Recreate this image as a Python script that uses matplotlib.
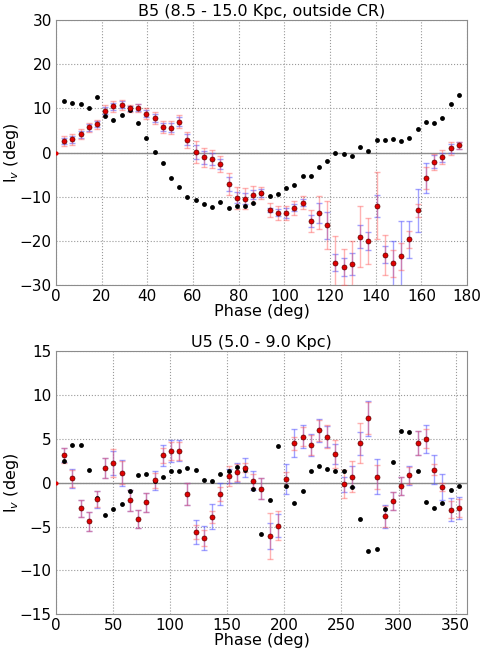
import matplotlib
matplotlib.use("Agg")
import matplotlib.pyplot as plt
import numpy as np

# ---- B5 (top panel) ----
b5_phase = 3.6 * np.arange(1, 50)
b5_black = [11.7, 11.2, 10.9, 10.2, 12.6, 8.2, 7.3, 8.5, 9.6, 6.8,
            3.3, 0.1, -2.4, -5.7, -7.9, -10.0, -10.7, -11.7, -12.4, -11.1,
            -12.6, -12.1, -12.0, -11.5, -9.2, -9.9, -9.3, -8.1, -7.3, -5.3,
            -5.3, -3.3, -2.0, -0.2, -0.4, -0.7, 1.3, 0.4, 2.9, 2.9,
            3.1, 2.6, 3.25, 5.3, 6.9, 6.8, 7.9, 11.0, 13.0]
b5_red = [2.6, 3.0, 4.2, 5.75, 6.4, 9.5, 10.5, 10.8, 10.0, 10.2,
          8.8, 7.8, 5.75, 5.6, 7.0, 2.95, 0.2, -1.1, -1.45, -2.6,
          -7.2, -10.2, -10.4, -9.5, -9.1, -13.0, -13.6, -13.7, -12.5, -11.3,
          -15.5, -13.6, -16.45, -24.9, -25.9, -25.2, -19.0, -20.0, -12.0, -23.1,
          -25.1, -23.5, -19.6, -13.1, -5.7, -2.05, -1.07, 1.0, 1.65]
b5_err_red = [1.1, 1.2, 1.1, 1.0, 1.0, 1.2, 1.2, 1.2, 0.8, 0.9,
              1.2, 1.3, 1.4, 1.5, 1.4, 1.8, 2.5, 2.2, 2.0, 1.9,
              2.5, 2.5, 2.3, 2.0, 1.3, 1.6, 1.6, 1.6, 1.6, 1.5,
              2.4, 3.8, 5.4, 6.0, 4.0, 5.3, 6.9, 5.3, 7.6, 4.5,
              3.0, 3.0, 1.9, 1.5, 2.5, 1.8, 1.6, 1.5, 0.8]
b5_err_blue = [0.7, 0.8, 0.8, 0.8, 0.7, 0.8, 0.8, 0.8, 0.6, 0.7,
               0.8, 0.9, 0.9, 1.0, 1.0, 1.2, 1.6, 1.5, 1.4, 1.2,
               1.6, 1.3, 1.2, 1.0, 0.9, 0.5, 0.8, 1.1, 0.8, 0.8,
               1.4, 2.3, 3.0, 2.0, 2.0, 2.5, 2.7, 2.0, 2.5, 2.0,
               5.0, 8.0, 4.2, 4.8, 3.4, 1.5, 1.0, 1.0, 0.8]

# ---- U5 (bottom panel) ----
u5_phase = 7.2 * np.arange(1, 50)
u5_black = [2.48, 4.36, 4.36, 1.47, -1.77, -3.65, -3.0, -2.37, -0.9, 0.9,
            1.05, 0.19, 0.6, 1.32, 1.39, 1.69, 1.47, 0.3, 0.19, 1.02,
            1.35, 1.77, 1.5, -0.68, -5.8, -1.99, 4.14, -0.34, -2.29, -0.9,
            1.39, 1.88, 1.58, 1.35, 1.35, -0.45, -4.1, -7.74, -7.56, -3.0,
            2.41, 5.94, 5.75, 1.35, -2.18, -2.89, -2.33, -0.83, -0.41]
u5_red = [3.12, 0.49, -2.93, -4.4, -1.88, 1.65, 2.26, 1.13, -2.0, -4.17,
          -2.22, 0.26, 3.12, 3.65, 3.65, -1.32, -5.64, -6.3, -3.87, -1.28,
          0.75, 1.2, 1.7, 0.23, -0.7, -6.05, -4.89, 0.45, 4.51, 5.26,
          4.29, 6.0, 5.26, 3.27, -0.19, 0.71, 4.51, 7.38, 0.68, -3.83,
          -2.07, -0.34, 0.83, 4.55, 5.04, 1.5, -0.49, -3.05, -2.89]
u5_err_red = [0.9, 1.0, 0.95, 1.07, 0.9, 1.15, 1.55, 1.3, 1.2, 1.03,
              1.1, 0.9, 0.9, 1.0, 1.0, 1.25, 0.8, 0.87, 0.7, 0.8,
              1.13, 0.95, 0.5, 0.8, 1.2, 2.6, 1.63, 0.8, 0.75, 1.05,
              1.13, 1.2, 1.3, 1.6, 1.6, 1.8, 2.3, 1.8, 1.4, 1.2,
              1.05, 1.0, 1.0, 1.35, 1.07, 0.65, 0.5, 0.95, 1.0]
u5_err_blue = [0.8, 1.1, 0.95, 1.07, 0.95, 1.15, 1.4, 1.45, 1.2, 1.03,
               1.1, 1.1, 1.17, 1.25, 1.2, 1.25, 1.37, 1.35, 1.43, 1.22,
               0.8, 1.1, 1.1, 1.1, 1.2, 1.5, 1.3, 1.7, 1.6, 1.3,
               1.25, 1.3, 1.2, 1.1, 0.85, 1.2, 1.3, 2.0, 2.0, 1.3,
               1.05, 1.0, 1.1, 1.4, 1.6, 1.65, 1.47, 1.26, 1.23]


def panel(ax, phase, black, red, err_red, err_blue, title, xlim, xticks, ylim, yticks):
    ax.errorbar(phase, red, yerr=err_blue, fmt="none", ecolor="#5555ff",
                alpha=0.55, elinewidth=1, capsize=2.5, capthick=1, zorder=2)
    ax.errorbar(phase, red, yerr=err_red, fmt="none", ecolor="#ff5555",
                alpha=0.45, elinewidth=1, capsize=2.5, capthick=1, zorder=3)
    ax.plot(phase, black, "o", color="k", ms=3.5, mew=0, zorder=4)
    ax.plot(phase, red, "o", color="#e00000", mec="#600000", mew=0.5, ms=3.6, zorder=5)
    ax.plot([0], [0], "o", color="#e00000", mew=0, ms=3, zorder=5)
    ax.axhline(0, color="0.55", lw=1, zorder=1)
    ax.set_xlim(*xlim)
    ax.set_ylim(*ylim)
    ax.set_xticks(xticks)
    ax.set_yticks(yticks)
    ax.grid(True, linestyle=":", color="0.6", lw=0.8)
    ax.set_axisbelow(True)
    ax.tick_params(length=0, labelsize=11, pad=3)
    for s in ax.spines.values():
        s.set_color("0.55")
    ax.set_title(title, fontsize=11.5, pad=3)
    ax.set_xlabel("Phase (deg)", fontsize=11.5, labelpad=0)
    ax.set_ylabel("l$_v$ (deg)", fontsize=11.5)
    ax.yaxis.set_label_coords(-0.085, 0.5)


fig = plt.figure(figsize=(4.82, 6.48), dpi=100)
ax1 = fig.add_axes([0.116, 0.560, 0.853, 0.409])
ax2 = fig.add_axes([0.116, 0.052, 0.853, 0.406])

panel(ax1, b5_phase, b5_black, b5_red, b5_err_red, b5_err_blue,
      "B5 (8.5 - 15.0 Kpc, outside CR)", (0, 180), range(0, 181, 20),
      (-30, 30), range(-30, 31, 10))
panel(ax2, u5_phase, u5_black, u5_red, u5_err_red, u5_err_blue,
      "U5 (5.0 - 9.0 Kpc)", (0, 360), range(0, 351, 50),
      (-15, 15), range(-15, 16, 5))

fig.savefig("out.png", dpi=100)
